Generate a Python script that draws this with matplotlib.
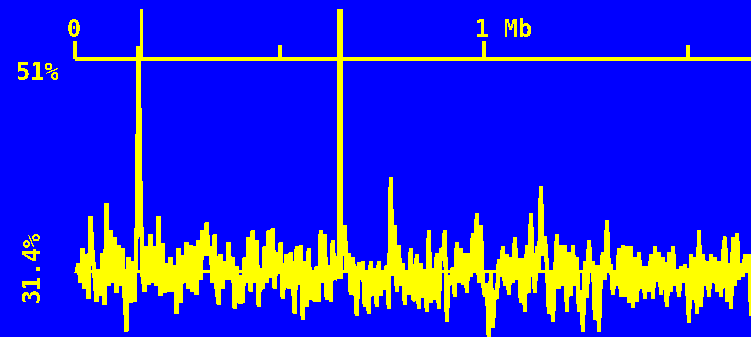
"""
GC content plot along the sequence: yellow on blue, ruler on top.
"""
import numpy as np
import matplotlib
matplotlib.use("Agg")
import matplotlib.pyplot as plt

BLUE = "#0000ff"
YELLOW = "#ffff00"

# ------------------------------------------------------------------
# GC content (%) per sliding window, read left to right off the plot
gc_part1 = [31.2, 32.0, 30.3, 33.4, 29.7, 32.9, 28.8, 36.4, 33.1, 30.9,
            28.5, 31.5, 29.1, 33.0, 28.3, 37.6, 30.0, 35.1, 30.3, 34.5,
            29.4, 33.7, 30.0, 33.4, 29.0, 25.8, 32.6, 28.4, 32.2, 28.5,
            34.8, 52.2, 38.7, 30.9, 29.5, 33.6, 30.1, 34.7, 30.3, 33.6,
            30.0, 36.4, 29.1, 33.9, 29.4, 32.0, 29.5, 32.6, 29.5, 31.9,
            27.4, 33.4, 28.4, 32.8, 30.3, 34.0]
gc_part2 = [29.7, 33.7, 29.5, 33.6, 29.2, 34.2, 30.6, 35.1, 32.8, 35.8,
            32.8, 33.6, 30.3, 34.7, 29.7, 28.3, 32.9, 29.7, 32.2, 30.6,
            34.0, 30.6, 32.6, 27.9, 31.8, 28.4, 30.9, 28.4, 32.6, 30.3,
            34.5, 29.5, 35.1, 30.3, 34.2, 28.1, 31.6, 29.7, 33.6, 30.3,
            35.1, 30.8, 35.3, 29.7, 33.1, 31.1, 34.0, 28.8, 31.2, 32.9,
            29.7, 33.1, 30.6, 27.4, 33.6, 30.1]
gc_part3 = [33.7, 26.9, 32.2, 28.1, 33.4, 28.7, 31.2, 28.5, 31.8, 28.5,
            35.1, 30.3, 34.7, 28.7, 31.9, 28.5, 34.2, 30.6, 30.9, 32.8,
            32.1, 34.1, 35.6, 31.2, 33.0, 29.2, 32.6, 30.6, 27.2, 32.1,
            30.6, 32.2, 28.1, 31.2, 27.4, 32.2, 29.1, 31.6, 28.1, 32.2,
            29.1, 31.2, 29.7, 31.9, 27.9, 40.0, 30.9, 35.6, 29.5, 33.7,
            30.0, 32.0, 28.3, 31.4, 29.2, 33.4, 28.8]
gc_part4 = [28.7, 32.9, 27.9, 32.0, 28.9, 31.5, 27.6, 35.1, 28.4, 31.6,
            28.7, 33.0, 27.9, 33.4, 32.5, 35.1, 26.7, 30.9, 30.1, 31.7,
            29.0, 34.0, 30.3, 33.4, 30.1, 33.0, 29.4, 33.0, 30.9, 34.8,
            31.4, 36.7, 30.3, 35.6, 30.3, 29.0, 30.2, 24.8, 31.1, 26.1,
            29.5, 28.8, 32.4, 30.9, 33.6, 30.0, 32.9, 29.2, 32.6, 30.3,
            34.5, 30.6, 32.5, 28.4, 32.5, 27.6, 33.7]
gc_part5 = [29.4, 36.7, 31.7, 29.4, 33.6, 31.2, 39.2, 32.8, 34.5, 31.9,
            27.4, 31.1, 26.7, 30.8, 34.7, 29.7, 33.7, 30.0, 33.7, 27.6,
            33.1, 29.1, 33.7, 30.0, 32.6, 27.6, 29.5, 25.8, 32.2, 28.9,
            34.2, 31.4, 32.2, 26.9, 31.9, 25.8, 31.2, 33.1, 30.6, 36.0,
            31.2, 31.9, 29.2, 31.4, 30.0, 33.4, 29.0, 33.7, 29.0, 33.6,
            28.4, 33.6, 28.0, 32.6, 28.5, 33.1]
gc_part6 = [29.7, 31.8, 28.8, 31.8, 29.5, 32.9, 28.8, 33.6, 30.4, 33.1,
            29.2, 32.6, 30.3, 28.1, 33.1, 29.5, 33.6, 30.0, 31.5, 29.0,
            31.8, 30.3, 31.9, 30.1, 26.6, 32.9, 28.7, 32.6, 27.4, 35.1,
            28.1, 32.9, 30.0, 32.2, 29.0, 32.9, 30.3, 32.6, 29.5, 32.2,
            29.0, 32.9, 34.5, 28.5, 32.0, 27.9, 34.5, 30.0, 34.8, 30.6,
            32.0, 30.9, 32.9, 31.2, 32.9, 27.2]

WIN_START = 0.00245   # Mb, centre of first window
WIN_STEP = 0.0049     # Mb between windows

GC_MEAN = 31.4        # %
GC_MAX = 51.0         # %

# feature markers (position in Mb, lower end in %, width in px)
marker_pos = [0.1605, 0.6475]
marker_low = [51.0, 30.6]
marker_px = [3, 6]

major_ticks = [0.0, 1.0]
major_labels = ["0", "1 Mb"]
minor_ticks = [0.5, 1.5]

XLIM = (-0.1848, 1.6536)
YLIM = (25.24, 56.47)
PT = 0.72             # points per pixel at 100 dpi

# ------------------------------------------------------------------
plt.rcParams["text.antialiased"] = False
plt.rcParams["lines.antialiased"] = False
plt.rcParams["font.family"] = "DejaVu Sans Mono"

gc = np.array(gc_part1 + gc_part2 + gc_part3 + gc_part4 + gc_part5 + gc_part6)
pos = WIN_START + WIN_STEP * np.arange(len(gc))

fig = plt.figure(figsize=(7.51, 3.37), dpi=100, facecolor=BLUE)
ax = fig.add_axes([0, 0, 1, 1])
ax.set_axis_off()
ax.set_xlim(*XLIM)
ax.set_ylim(*YLIM)

# ruler
ax.hlines(GC_MAX, 0, XLIM[1], color=YELLOW, lw=4 * PT, antialiased=False)
ax.vlines(major_ticks, GC_MAX, GC_MAX + 1.7, color=YELLOW, lw=3.5 * PT,
          antialiased=False)
ax.vlines(minor_ticks, GC_MAX, GC_MAX + 1.3, color=YELLOW, lw=3.5 * PT,
          antialiased=False)
for t, lab in zip(major_ticks, major_labels):
    ax.annotate(lab, xy=(t, GC_MAX), xytext=(-9, 22), textcoords="offset pixels",
                ha="left", va="baseline", color=YELLOW, fontsize=17,
                fontweight="bold")

# mean line and GC curve
ax.hlines(GC_MEAN, pos[0], pos[-1], color=YELLOW, lw=3 * PT, antialiased=False)
ax.plot(pos, gc, color=YELLOW, lw=3.2 * PT, antialiased=False,
        solid_joinstyle="bevel", solid_capstyle="butt")

# feature markers
top = YLIM[1] - 0.85
for p, lo, w in zip(marker_pos, marker_low, marker_px):
    ax.vlines(p, lo, top, color=YELLOW, lw=w * PT, antialiased=False)

# percent labels
fig.text(59 / 751, 1 - 61 / 337, f"{GC_MAX:.0f}%", ha="right", va="top",
         color=YELLOW, fontsize=17, fontweight="bold")
fig.text(33 / 751, 1 - 266 / 337, f"{GC_MEAN}%", ha="center", va="center",
         rotation=90, color=YELLOW, fontsize=17, fontweight="bold")

fig.savefig("out.png", dpi=100, facecolor=BLUE)
